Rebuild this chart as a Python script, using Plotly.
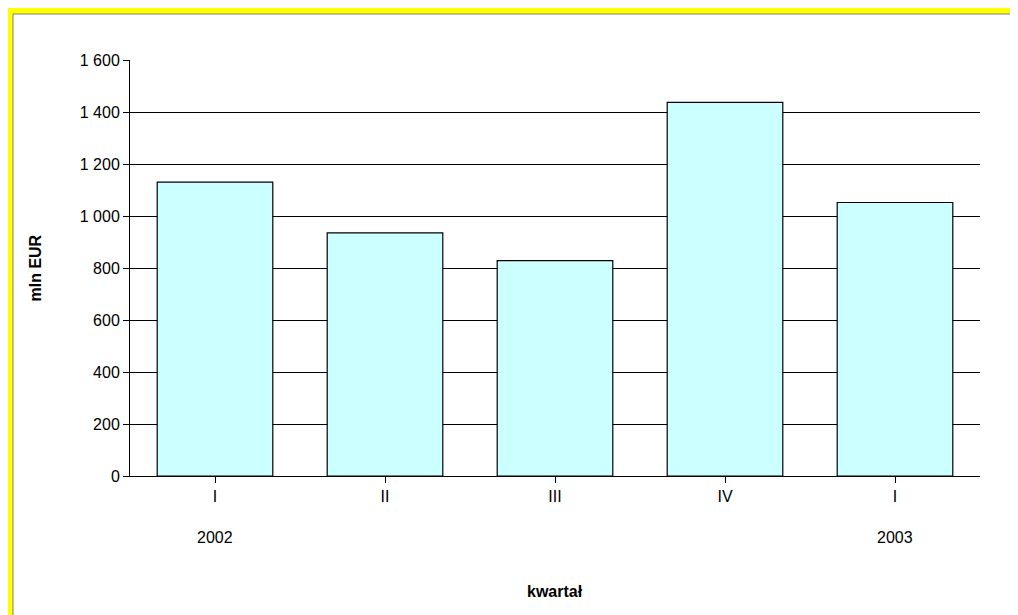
import plotly.graph_objects as go

categories = ["I", "II", "III", "IV", "I"]
years = ["2002", "", "", "", "2003"]
values = [1130, 935, 828, 1437, 1052]
yticks = [0, 200, 400, 600, 800, 1000, 1200, 1400, 1600]

W, H = 1018, 615
OFF = 8
L, R, T, B = 130 - OFF, 38 + OFF, 60 - OFF, 139 + OFF
pw, ph = W - L - R, H - T - B
def px(x): return (x - OFF - L) / pw
def py(y): return (H - B - (y - OFF)) / ph

fig = go.Figure(go.Bar(x=list(range(5)), y=values, marker=dict(color="#CCFFFF", line=dict(color="black", width=1.2)), width=0.68))
annotations = [
    dict(text="<b>kwartał</b>", xref="paper", yref="paper", x=px(555), y=py(602), showarrow=False, font=dict(size=16)),
    dict(text="<b>mln EUR</b>", xref="paper", yref="paper", x=px(24), y=py(268), showarrow=False, textangle=-90, font=dict(size=16)),
]
for i, yr in enumerate(years):
    if yr:
        annotations.append(dict(text=yr, x=i, xref="x", yref="paper", y=py(548), showarrow=False, font=dict(size=16)))
fig.update_layout(
    width=W, height=H, margin=dict(l=L, r=R, t=T, b=B),
    paper_bgcolor="#FFFF00", plot_bgcolor="white", separators=", ",
    font=dict(family="Liberation Sans, Arial", size=16, color="black"),
    showlegend=False,
    xaxis=dict(tickvals=list(range(5)), ticktext=categories, range=[-0.5, 4.5], showline=True, linecolor="black",
               ticks="outside", ticklen=6, tickcolor="black", showgrid=False, tickfont=dict(color="black")),
    yaxis=dict(range=[0, 1600], tickvals=yticks, tickformat=",d", showline=True, linecolor="black",
               ticks="outside", ticklen=6, tickcolor="black", gridcolor="black", gridwidth=1, tickfont=dict(color="black")),
    shapes=[dict(type="rect", xref="paper", yref="paper", x0=px(13), x1=px(1011), y0=py(14), y1=py(640),
                 fillcolor="white", line=dict(color="#808080", width=1), layer="below")],
    annotations=annotations,
)
fig.write_html("out.html")
